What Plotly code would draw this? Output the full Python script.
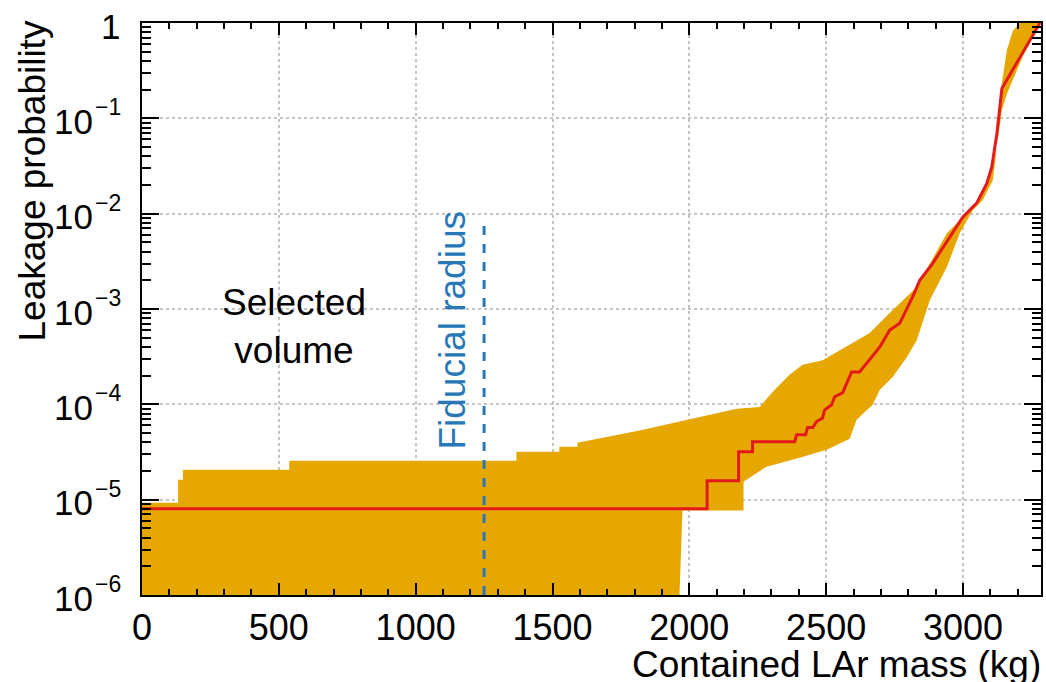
import math
import plotly.graph_objects as go

# ---------------- data ----------------
upper_x = [0, 132, 132, 150, 150, 538, 538, 1368, 1368, 1525, 1525, 1591, 1591, 1708, 1818,
           1993, 2173, 2257, 2304, 2366, 2414, 2487, 2549, 2659, 2732, 2831, 2941, 2999,
           3050, 3098, 3124, 3142, 3160, 3182, 3208, 3285]
upper_y = [9.3e-6, 9.3e-6, 1.62e-5, 1.62e-5, 2.06e-5, 2.06e-5, 2.56e-5, 2.56e-5, 3.18e-5,
           3.18e-5, 3.59e-5, 3.59e-5, 3.95e-5, 4.57e-5, 5.3e-5, 6.9e-5, 8.97e-5, 9.4e-5,
           1.35e-4, 2.04e-4, 2.6e-4, 2.9e-4, 3.7e-4, 5.6e-4, 9.1e-4, 1.7e-3, 6.25e-3, 9.2e-3,
           1.29e-2, 2.41e-2, 4.97e-2, 0.232, 0.515, 0.83, 1.0, 1.0]

lower_x = [0, 1964, 1975, 2198, 2198, 2282, 2403, 2502, 2586, 2611, 2670, 2696, 2743, 2794,
           2831, 2879, 2941, 2988, 3036, 3072, 3109, 3127, 3142, 3160, 3219, 3285]
lower_y = [1e-6, 1e-6, 7.7e-6, 7.7e-6, 1.54e-5, 2.22e-5, 2.75e-5, 3.34e-5, 4.36e-5, 6.9e-5,
           9.9e-5, 1.42e-4, 1.94e-4, 3.1e-4, 4.7e-4, 1.24e-3, 2.75e-3, 6.25e-3, 1.09e-2,
           1.38e-2, 2.24e-2, 5.9e-2, 0.121, 0.18, 0.45, 1.0]

central_x = [0, 2065, 2065, 2180, 2180, 2231, 2231, 2385, 2392, 2425, 2432, 2451, 2465, 2487,
             2494, 2520, 2531, 2560, 2593, 2622, 2648, 2685, 2696, 2732, 2769, 2816, 2842,
             2889, 2952, 2999, 3050, 3087, 3105, 3124, 3142, 3281]
central_y = [8.05e-6, 8.05e-6, 1.58e-5, 1.58e-5, 3.18e-5, 3.18e-5, 4.05e-5, 4.05e-5, 4.8e-5,
             4.8e-5, 5.7e-5, 5.7e-5, 6.6e-5, 7.2e-5, 8.7e-5, 9.9e-5, 1.2e-4, 1.32e-4, 2.19e-4,
             2.19e-4, 2.7e-4, 3.7e-4, 4.0e-4, 6.0e-4, 7.1e-4, 1.34e-3, 2.0e-3, 3.0e-3, 5.7e-3,
             9.2e-3, 1.29e-2, 2.08e-2, 3.07e-2, 6.97e-2, 0.206, 1.0]

fiducial_x = [1250, 1250]
fiducial_y = [1e-6, 8.1e-3]

x_tickvals = [0, 500, 1000, 1500, 2000, 2500, 3000]
x_minor_tickvals = [v for v in range(0, 3300, 100)]
y_tickvals = [1e-6, 1e-5, 1e-4, 1e-3, 1e-2, 1e-1, 1]
y_tick_base = ["10", "10", "10", "10", "10", "10", "1"]
y_tick_exp = ["\u22126", "\u22125", "\u22124", "\u22123", "\u22122", "\u22121", ""]
y_minor_tickvals = [k * 10.0 ** e for e in range(-6, 0) for k in range(2, 10)]

BAND = "#E6A800"
RED = "#E4191C"
BLUE = "#2878B8"
FONT = "Liberation Sans"
FS = 37
FS_TICK = 35
FS_EXP = 23

fig = go.Figure()

# band as a closed polygon: upper edge left->right, lower edge right->left
fig.add_trace(go.Scatter(
    x=upper_x + lower_x[::-1], y=upper_y + lower_y[::-1],
    fill="toself", fillcolor=BAND, mode="lines", line=dict(width=0, color=BAND),
    hoverinfo="skip", showlegend=False))

fig.add_trace(go.Scatter(
    x=fiducial_x, y=fiducial_y, mode="lines",
    line=dict(color=BLUE, width=3, dash="dash"), showlegend=False))

fig.add_trace(go.Scatter(
    x=central_x, y=central_y, mode="lines",
    line=dict(color=RED, width=3), showlegend=False))

fig.update_layout(
    width=1046, height=682,
    margin=dict(l=142, r=5, t=23, b=87, autoexpand=False),
    paper_bgcolor="white", plot_bgcolor="white",
    font=dict(family=FONT, size=FS, color="black"),
    showlegend=False,
)

fig.update_xaxes(
    range=[0, 3285], tickmode="array", tickvals=x_tickvals, automargin=False,
    ticks="inside", ticklen=12, tickwidth=2, tickcolor="black",
    minor=dict(ticks="inside", ticklen=6, tickwidth=1.5, tickcolor="black",
               tickmode="array", tickvals=x_minor_tickvals, showgrid=False),
    showline=True, linecolor="black", linewidth=2, mirror="allticks",
    showgrid=True, gridcolor="#c4c4c4", gridwidth=1.5, griddash="dot",
    zeroline=False, ticklabelstandoff=0,
    tickfont=dict(family=FONT, size=36),
)
fig.update_yaxes(
    type="log", range=[-6, 0], tickmode="array", tickvals=y_tickvals,
    showticklabels=False, automargin=False,
    ticks="inside", ticklen=17, tickwidth=2, tickcolor="black",
    minor=dict(ticks="inside", ticklen=9, tickwidth=1.5, tickcolor="black",
               tickmode="array", tickvals=y_minor_tickvals, showgrid=False),
    showline=True, linecolor="black", linewidth=2, mirror="allticks",
    showgrid=True, gridcolor="#c4c4c4", gridwidth=1.5, griddash="dot",
    zeroline=False,
)

# y tick labels: base and exponent drawn as separate texts next to the axis
for v, b, e in zip(y_tickvals, y_tick_base, y_tick_exp):
    ly = math.log10(v)
    if e:
        fig.add_annotation(text=b, xref="paper", yref="y", x=0, y=ly,
                           xanchor="right", yanchor="middle", xshift=-47, yshift=-3,
                           showarrow=False,
                           font=dict(family=FONT, size=FS_TICK, color="black"))
        fig.add_annotation(text=e, xref="paper", yref="y", x=0, y=ly,
                           xanchor="left", yanchor="middle", xshift=-49, yshift=11,
                           showarrow=False,
                           font=dict(family=FONT, size=FS_EXP, color="black"))
    else:
        fig.add_annotation(text=b, xref="paper", yref="y", x=0, y=ly,
                           xanchor="right", yanchor="middle", xshift=-20, yshift=-3,
                           showarrow=False,
                           font=dict(family=FONT, size=FS_TICK, color="black"))

# axis titles (ROOT style, aligned to the axis ends)
fig.add_annotation(text="Contained LAr mass (kg)", xref="paper", yref="paper",
                   x=1.0, y=0, xanchor="right", yanchor="middle", yshift=-69, xshift=2,
                   showarrow=False, font=dict(family=FONT, size=FS, color="black"))
fig.add_annotation(text="Leakage probability", xref="paper", yref="paper",
                   x=0, y=1, xanchor="center", yanchor="top", xshift=-110, yshift=4,
                   textangle=-90, showarrow=False,
                   font=dict(family=FONT, size=FS, color="black"))

fig.add_annotation(text="Selected<br>volume", x=556, y=-3.18, xref="x", yref="y",
                   showarrow=False, align="center",
                   font=dict(family=FONT, size=FS, color="black"))
fig.add_annotation(text="Fiducial radius", x=1135, y=-3.22, xref="x", yref="y",
                   textangle=-90, showarrow=False,
                   font=dict(family=FONT, size=FS, color=BLUE))

fig.write_html("out.html", config={"displayModeBar": False},
               post_script="document.body.style.margin='0';")
